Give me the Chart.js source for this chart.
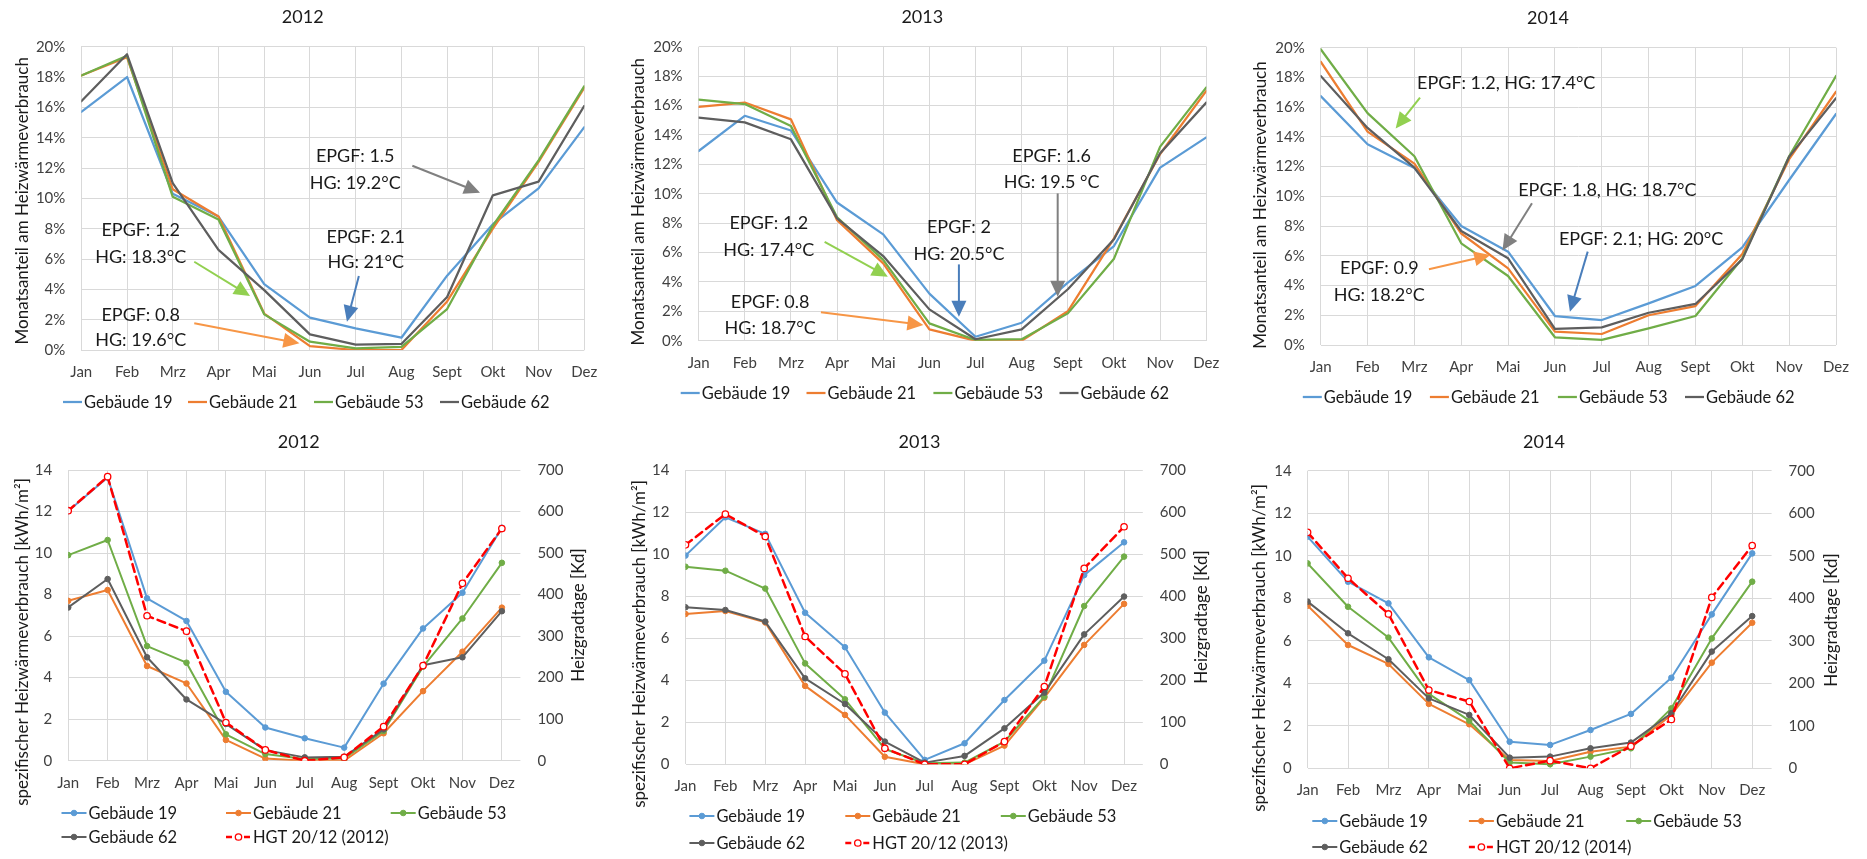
<!DOCTYPE html>
<html><head><meta charset="utf-8">
<script src="https://cdn.jsdelivr.net/npm/chart.js@4.4.1/dist/chart.umd.min.js"></script>
<style>
html,body{margin:0;padding:0;background:#fff;}
#wrap{position:relative;width:1867px;height:859px;overflow:hidden;background:#fff;}
canvas{position:absolute;}
</style></head><body><div id="wrap"></div>
<script>
// ---------- categories ----------
const months = ['Jan','Feb','Mrz','Apr','Mai','Jun','Jul','Aug','Sept','Okt','Nov','Dez'];
const buildings = ['Gebäude 19','Gebäude 21','Gebäude 53','Gebäude 62'];

// ---------- top row: Monatsanteil am Heizwärmeverbrauch [%] ----------
const share2012_g19 = [15.7, 18.0, 10.3, 8.8, 4.35, 2.13, 1.43, 0.81, 4.9, 8.3, 10.66, 14.7];
const share2012_g21 = [18.1, 19.3, 10.6, 8.8, 2.4, 0.25, 0.0, 0.0, 3.2, 8.0, 12.4, 17.3];
const share2012_g53 = [18.1, 19.4, 10.1, 8.6, 2.35, 0.55, 0.1, 0.2, 2.7, 8.2, 12.5, 17.4];
const share2012_g62 = [16.4, 19.5, 11.0, 6.6, 3.95, 1.03, 0.35, 0.4, 3.5, 10.2, 11.1, 16.1];

const share2013_g19 = [12.9, 15.3, 14.3, 9.4, 7.23, 3.2, 0.27, 1.22, 3.95, 6.44, 11.77, 13.83];
const share2013_g21 = [15.9, 16.2, 15.06, 8.2, 5.26, 0.77, 0.0, 0.0, 2.0, 6.96, 12.7, 17.0];
const share2013_g53 = [16.4, 16.1, 14.6, 8.4, 5.5, 1.18, 0.05, 0.1, 1.86, 5.58, 13.2, 17.23];
const share2013_g62 = [15.17, 14.85, 13.7, 8.32, 5.76, 2.13, 0.1, 0.77, 3.5, 6.9, 12.75, 16.2];

const share2014_g19 = [16.75, 13.5, 11.9, 8.0, 6.28, 1.95, 1.68, 2.8, 3.97, 6.57, 11.1, 15.54];
const share2014_g21 = [19.06, 14.35, 12.2, 7.5, 5.16, 0.9, 0.74, 2.0, 2.62, 6.12, 12.5, 17.04];
const share2014_g53 = [19.9, 15.6, 12.7, 6.84, 4.64, 0.52, 0.34, 1.12, 1.95, 5.83, 12.7, 18.1];
const share2014_g62 = [18.1, 14.6, 11.93, 7.67, 5.83, 1.08, 1.19, 2.17, 2.76, 5.76, 12.67, 16.6];

// ---------- bottom row: spezifischer Heizwärmeverbrauch [kWh/m²] and HGT [Kd] ----------
const spec2012_g19 = [12.02, 13.64, 7.82, 6.73, 3.32, 1.6, 1.08, 0.63, 3.71, 6.37, 8.09, 11.22];
const spec2012_g21 = [7.7, 8.22, 4.56, 3.72, 1.0, 0.1, 0.0, 0.0, 1.32, 3.35, 5.25, 7.37];
const spec2012_g53 = [9.9, 10.63, 5.52, 4.72, 1.27, 0.32, 0.08, 0.11, 1.43, 4.53, 6.85, 9.53];
const spec2012_g62 = [7.38, 8.75, 4.98, 2.95, 1.77, 0.51, 0.16, 0.19, 1.51, 4.6, 4.98, 7.2];
const hgt2012 = [602, 684, 349, 312, 92, 26, 0, 8, 82, 229, 427, 559];

const spec2013_g19 = [9.93, 11.75, 10.96, 7.21, 5.57, 2.46, 0.21, 1.0, 3.06, 4.93, 9.0, 10.56];
const spec2013_g21 = [7.15, 7.29, 6.75, 3.73, 2.35, 0.36, 0.0, 0.0, 0.89, 3.17, 5.68, 7.63];
const spec2013_g53 = [9.4, 9.21, 8.36, 4.8, 3.09, 0.73, 0.05, 0.08, 1.08, 3.22, 7.53, 9.88];
const spec2013_g62 = [7.47, 7.34, 6.79, 4.09, 2.87, 1.08, 0.08, 0.4, 1.71, 3.41, 6.18, 7.98];
const hgt2013 = [522, 595, 542, 304, 215, 38, 0, 0, 54, 185, 466, 565];

const spec2014_g19 = [10.9, 8.78, 7.76, 5.22, 4.15, 1.25, 1.1, 1.8, 2.56, 4.26, 7.24, 10.11];
const spec2014_g21 = [7.65, 5.8, 4.91, 3.03, 2.07, 0.39, 0.34, 0.78, 1.02, 2.51, 4.97, 6.85];
const spec2014_g53 = [9.64, 7.6, 6.15, 3.5, 2.24, 0.27, 0.19, 0.55, 0.94, 2.82, 6.11, 8.78];
const spec2014_g62 = [7.84, 6.35, 5.13, 3.29, 2.51, 0.5, 0.55, 0.94, 1.21, 2.59, 5.49, 7.16];
const hgt2014 = [555, 447, 363, 184, 157, 0, 18, 0, 52, 115, 402, 524];

// ---------- tick settings ----------
const shareTickStep = 2, shareMax = 20;
const specTickStep = 2, specMax = 14;
const hgtTickStep = 100, hgtMax = 700;

// ---------- annotations (positions in data units: month index, percent) ----------
const notes2012 = [
  {lines:['EPGF: 1.5','HG: 19.2°C'], tx:5.99, ty:[12.75,11.03], from:[7.24,12.15], to:[8.72,10.37], c:'gray'},
  {lines:['EPGF: 1.2','HG: 18.3°C'], tx:1.30, ty:[7.87,6.11], from:[2.47,5.82], to:[3.69,3.56], c:'green'},
  {lines:['EPGF: 2.1','HG: 21°C'], tx:6.22, ty:[7.47,5.76], from:[6.07,4.88], to:[5.81,1.87], c:'blue'},
  {lines:['EPGF: 0.8','HG: 19.6°C'], tx:1.30, ty:[2.29,0.66], from:[2.47,1.76], to:[4.77,0.44], c:'orange'}
];
const notes2013 = [
  {lines:['EPGF: 1.6','HG: 19.5 °C'], tx:7.65, ty:[12.52,10.75], from:[7.78,10.02], to:[7.78,2.99], c:'gray'},
  {lines:['EPGF: 1.2','HG: 17.4°C'], tx:1.52, ty:[7.98,6.17], from:[2.73,6.73], to:[4.10,4.35], c:'green'},
  {lines:['EPGF: 2','HG: 20.5°C'], tx:5.64, ty:[7.69,5.87], from:[5.64,5.19], to:[5.64,1.63], c:'blue'},
  {lines:['EPGF: 0.8','HG: 18.7°C'], tx:1.55, ty:[2.65,0.88], from:[2.65,1.93], to:[4.87,1.07], c:'orange'}
];
const notes2014 = [
  {lines:['EPGF: 1.2, HG: 17.4°C'], tx:3.96, ty:[17.6], from:[2.12,16.64], to:[1.60,14.57], c:'green'},
  {lines:['EPGF: 1.8, HG: 18.7°C'], tx:6.12, ty:[10.43], from:[4.51,9.53], to:[3.88,6.35], c:'gray'},
  {lines:['EPGF: 2.1; HG: 20°C'], tx:6.84, ty:[7.13], from:[5.70,6.28], to:[5.32,2.24], c:'blue'},
  {lines:['EPGF: 0.9','HG: 18.2°C'], tx:1.25, ty:[5.16,3.36], from:[2.31,5.09], to:[3.62,6.05], c:'orange'}
];

// ---------- styles ----------
const FONT = "Lato, 'Open Sans', sans-serif";
const COLORS = ['#5B9BD5', '#ED7D31', '#70AD47', '#5E5E5E'];
const HGT_COLOR = '#FF0000';
const ARROW = {gray:'#808080', green:'#92D050', blue:'#4A7EBB', orange:'#F79646'};
const GRID = '#D9D9D9';
const TEXT = '#1a1a1a';
const TICK = '#404040';

const DECOR = {};

function drawArrow(ctx, x1, y1, x2, y2, color) {
  const ang = Math.atan2(y2 - y1, x2 - x1), L = 16, W = 7.5;
  const bx = x2 - L * Math.cos(ang), by = y2 - L * Math.sin(ang);
  ctx.save();
  ctx.strokeStyle = color; ctx.fillStyle = color; ctx.lineWidth = 2; ctx.setLineDash([]);
  ctx.beginPath(); ctx.moveTo(x1, y1); ctx.lineTo(bx + 2*Math.cos(ang), by + 2*Math.sin(ang)); ctx.stroke();
  ctx.beginPath(); ctx.moveTo(x2, y2);
  ctx.lineTo(bx + W * Math.sin(ang), by - W * Math.cos(ang));
  ctx.lineTo(bx - W * Math.sin(ang), by + W * Math.cos(ang));
  ctx.closePath(); ctx.fill();
  ctx.restore();
}

const decorPlugin = {
  id: 'decor',
  afterDraw(chart, args, opts) {
    const d = DECOR[opts.key];
    if (!d) return;
    const ctx = chart.ctx;
    ctx.save();
    ctx.fillStyle = TEXT;
    ctx.textAlign = 'center'; ctx.textBaseline = 'middle';
    ctx.font = `18px ${FONT}`;
    ctx.fillText(d.title.text, d.title.x, d.title.y);
    for (const t of d.axisTitles) {
      ctx.save();
      ctx.translate(t.x, t.y); ctx.rotate(-Math.PI / 2);
      ctx.font = `17px ${FONT}`; ctx.fillStyle = TEXT;
      ctx.fillText(t.text, 0, 0);
      ctx.restore();
    }
    // annotations
    const xs = chart.scales.x, ys = chart.scales.y;
    for (const a of (d.notes || [])) {
      ctx.font = `18px ${FONT}`; ctx.fillStyle = TEXT;
      a.lines.forEach((ln, k) => ctx.fillText(ln, xs.getPixelForValue(a.tx), ys.getPixelForValue(a.ty[k])));
      drawArrow(ctx, xs.getPixelForValue(a.from[0]), ys.getPixelForValue(a.from[1]),
                     xs.getPixelForValue(a.to[0]), ys.getPixelForValue(a.to[1]), ARROW[a.c]);
    }
    // legend
    const lg = d.legend;
    const ncol = lg.cols.length;
    chart.data.datasets.forEach((ds, i) => {
      const x0 = lg.cols[i % ncol], y0 = lg.rows[Math.floor(i / ncol)];
      ctx.save();
      ctx.strokeStyle = ds.borderColor; ctx.lineWidth = ds.borderWidth;
      ctx.setLineDash(ds.borderDash ? [6, 3] : []);
      ctx.beginPath(); ctx.moveTo(x0, y0); ctx.lineTo(x0 + lg.sample, y0); ctx.stroke();
      ctx.setLineDash([]);
      if (ds.pointRadius > 0) {
        ctx.beginPath(); ctx.arc(x0 + lg.sample / 2, y0, ds.pointRadius, 0, Math.PI * 2);
        ctx.fillStyle = ds.pointBackgroundColor; ctx.fill();
        ctx.lineWidth = ds.pointBorderWidth; ctx.strokeStyle = ds.pointBorderColor; ctx.stroke();
      }
      ctx.fillStyle = TEXT; ctx.font = `16.5px ${FONT}`;
      ctx.textAlign = 'left'; ctx.textBaseline = 'middle';
      ctx.fillText(ds.label, x0 + lg.sample + 2, y0 + 1);
      ctx.restore();
    });
    ctx.restore();
  }
};

function pts(values) { return values.map((v, i) => ({x: i, y: v})); }

function topSets(list) {
  return list.map((vals, i) => ({
    label: buildings[i], data: pts(vals), borderColor: COLORS[i], backgroundColor: COLORS[i],
    borderWidth: 2.25, pointRadius: 0, tension: 0, order: 4 - i, yAxisID: 'y'
  }));
}
function bottomSets(list, hgt, year) {
  const sets = list.map((vals, i) => ({
    label: buildings[i], data: pts(vals), borderColor: COLORS[i], backgroundColor: COLORS[i],
    borderWidth: 2, pointRadius: 2.8, pointBackgroundColor: COLORS[i], pointBorderColor: COLORS[i],
    pointBorderWidth: 1, tension: 0, order: 5 - i, yAxisID: 'y'
  }));
  sets.push({
    label: `HGT 20/12 (${year})`, data: pts(hgt), borderColor: HGT_COLOR, backgroundColor: HGT_COLOR,
    borderWidth: 2.5, borderDash: [8, 5], pointRadius: 3.2, pointBackgroundColor: '#FFFFFF',
    pointBorderColor: HGT_COLOR, pointBorderWidth: 1.3, tension: 0, order: 0, yAxisID: 'y1'
  });
  return sets;
}

function makeChart(spec) {
  const [bx, by, bw, bh] = spec.box;
  const [l, t, r, b] = spec.area;
  const yW = spec.yW, y1W = spec.right ? 50 : 0, xH = 40;
  const cv = document.createElement('canvas');
  cv.width = bw; cv.height = bh;
  cv.style.left = bx + 'px'; cv.style.top = by + 'px';
  cv.style.width = bw + 'px'; cv.style.height = bh + 'px';
  document.getElementById('wrap').appendChild(cv);
  DECOR[spec.key] = spec.decor;
  const tickFont = {family: FONT, size: 15};
  const scales = {
    x: {
      type: 'linear', min: 0, max: spec.xMax,
      afterBuildTicks: s => { s.ticks = months.map((_, i) => ({value: i})); },
      afterFit: s => { s.height = xH; },
      grid: {color: GRID, lineWidth: 1, drawTicks: false},
      border: {display: false},
      ticks: {font: tickFont, color: TICK, padding: 13, maxRotation: 0, autoSkip: false,
              callback: v => months[v] ?? ''}
    },
    y: {
      type: 'linear', position: 'left', min: 0, max: spec.yMax,
      afterFit: s => { s.width = yW; },
      grid: {color: GRID, lineWidth: 1, drawTicks: false},
      border: {display: false},
      ticks: {font: tickFont, color: TICK, padding: 16, stepSize: spec.yStep,
              callback: spec.pct ? (v => v + '%') : (v => v)}
    }
  };
  if (spec.right) {
    scales.y1 = {
      type: 'linear', position: 'right', min: 0, max: hgtMax,
      afterFit: s => { s.width = y1W; },
      grid: {drawOnChartArea: false, drawTicks: false},
      border: {display: false},
      ticks: {font: tickFont, color: TICK, padding: 17, stepSize: hgtTickStep}
    };
  }
  new Chart(cv, {
    type: 'line',
    data: {datasets: spec.datasets},
    plugins: [decorPlugin],
    options: {
      responsive: false, animation: false, devicePixelRatio: 1,
      layout: {padding: {left: l - yW, right: bw - r - y1W, top: t, bottom: bh - b - xH}},
      plugins: {legend: {display: false}, tooltip: {enabled: false}, title: {display: false},
                decor: {key: spec.key}},
      elements: {line: {borderCapStyle: 'round', borderJoinStyle: 'round'}},
      scales
    }
  });
}

const YT_TOP = 'Monatsanteil am Heizwärmeverbrauch';
const YT_BOT = 'spezifischer Heizwärmeverbrauch [kWh/m²]';
const YT_R = 'Heizgradtage [Kd]';

// ---------- top row ----------
makeChart({key:'t12', box:[0,0,622,412], area:[81.3,46.7,584.3,350], yW:60, xMax:11, yMax:shareMax, yStep:shareTickStep, pct:true,
  datasets: topSets([share2012_g19, share2012_g21, share2012_g53, share2012_g62]),
  decor: {title:{text:'2012', x:302.7, y:17.3}, axisTitles:[{text:YT_TOP, x:22.6, y:200.8}], notes: notes2012,
          legend:{cols:[63,188,314,440], rows:[402], sample:19}}});
makeChart({key:'t13', box:[622,0,622,412], area:[76.6,46.7,584.3,340.7], yW:60, xMax:11, yMax:shareMax, yStep:shareTickStep, pct:true,
  datasets: topSets([share2013_g19, share2013_g21, share2013_g53, share2013_g62]),
  decor: {title:{text:'2013', x:300.3, y:17.3}, axisTitles:[{text:YT_TOP, x:16.7, y:201.7}], notes: notes2013,
          legend:{cols:[58.7,184.5,311.4,437.5], rows:[393], sample:19}}});
makeChart({key:'t14', box:[1244,0,623,412], area:[76.7,47.7,592,345], yW:60, xMax:11, yMax:shareMax, yStep:shareTickStep, pct:true,
  datasets: topSets([share2014_g19, share2014_g21, share2014_g53, share2014_g62]),
  decor: {title:{text:'2014', x:304, y:18.3}, axisTitles:[{text:YT_TOP, x:16.7, y:205}], notes: notes2014,
          legend:{cols:[58.8,185.9,313.9,441], rows:[397], sample:19}}});

// ---------- bottom row ----------
makeChart({key:'b12', box:[0,412,622,447], area:[68.2,58,520.4,348.7], yW:50, right:true, xMax:11.47, yMax:specMax, yStep:specTickStep,
  datasets: bottomSets([spec2012_g19, spec2012_g21, spec2012_g53, spec2012_g62], hgt2012, 2012),
  decor: {title:{text:'2012', x:298.7, y:29.7}, axisTitles:[{text:YT_BOT, x:22.6, y:230},{text:YT_R, x:579, y:203}],
          legend:{cols:[61.5,226,390.7], rows:[401,425], sample:25}}});
makeChart({key:'b13', box:[622,412,622,447], area:[63.5,58,520.8,352.3], yW:50, right:true, xMax:11.47, yMax:specMax, yStep:specTickStep,
  datasets: bottomSets([spec2013_g19, spec2013_g21, spec2013_g53, spec2013_g62], hgt2013, 2013),
  decor: {title:{text:'2013', x:297.5, y:29.7}, axisTitles:[{text:YT_BOT, x:17.9, y:232},{text:YT_R, x:580, y:205}],
          legend:{cols:[67.4,223.3,378.8], rows:[404,431], sample:25}}});
makeChart({key:'b14', box:[1244,412,623,447], area:[63.6,58.7,527.6,356.3], yW:50, right:true, xMax:11.48, yMax:specMax, yStep:specTickStep,
  datasets: bottomSets([spec2014_g19, spec2014_g21, spec2014_g53, spec2014_g62], hgt2014, 2014),
  decor: {title:{text:'2014', x:300, y:30}, axisTitles:[{text:YT_BOT, x:15.5, y:236},{text:YT_R, x:588, y:208}],
          legend:{cols:[68.3,224.9,382.2], rows:[409,435], sample:25}}});
</script></body></html>
